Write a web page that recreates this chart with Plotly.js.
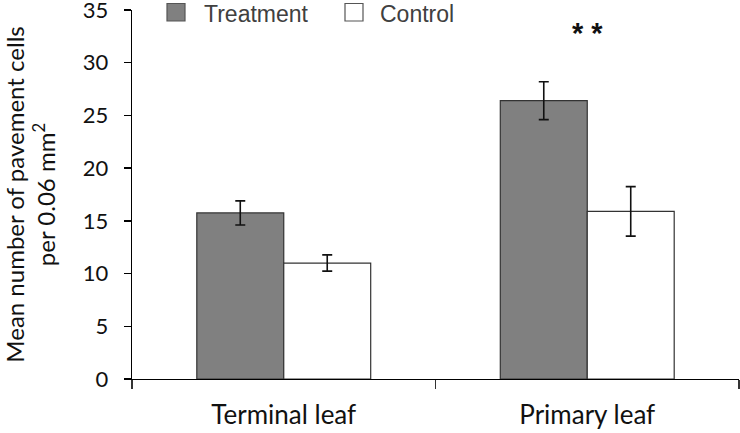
<!DOCTYPE html>
<html>
<head>
<meta charset="utf-8">
<script src="https://cdn.plot.ly/plotly-3.0.1.min.js"></script>
<style>html,body{margin:0;padding:0;background:#fff}#chart{width:740px;height:433px}</style>
</head>
<body>
<div id="chart"></div>
<script>
const categories = ["Terminal leaf", "Primary leaf"];
const seriesNames = ["Treatment", "Control"];
const seriesColors = ["#808080", "#ffffff"];
const treatmentValues = [15.75, 26.4];
const treatmentErrors = [1.15, 1.8];
const controlValues = [11.0, 15.9];
const controlErrors = [0.77, 2.35];
const yTickValues = [0, 5, 10, 15, 20, 25, 30, 35];
const significance = ["", "**"];

const bodyFont = "Lato, 'Open Sans', sans-serif";
const legendFont = "Liberation Sans, Arial, sans-serif";

const W = 740, H = 433;
const M = {l: 132, r: 1, t: 9.5, b: 54};
const plotW = W - M.l - M.r, plotH = H - M.t - M.b;
const px2x = p => (p - M.l) / plotW;
const px2y = p => (H - M.b - p) / plotH;

const traces = [
  {
    type: "bar", name: seriesNames[0], x: categories, y: treatmentValues,
    marker: {color: seriesColors[0], line: {color: "#333333", width: 1.2}},
    error_y: {type: "data", array: treatmentErrors, visible: true, color: "#111111", thickness: 1.6, width: 5}
  },
  {
    type: "bar", name: seriesNames[1], x: categories, y: controlValues,
    marker: {color: seriesColors[1], line: {color: "#333333", width: 1.2}},
    error_y: {type: "data", array: controlErrors, visible: true, color: "#111111", thickness: 1.6, width: 5}
  }
];

const annotations = [];
categories.forEach((c, i) => {
  if (significance[i]) {
    annotations.push({
      x: c, y: 32.8, xref: "x", yref: "y", text: "<b>* *</b>", showarrow: false,
      font: {family: legendFont, size: 29, color: "#111111"}
    });
  }
});

// custom legend (positions in pixels converted to paper coordinates)
const legendSwatchX = [167, 345];
const legendTextX = [202, 378];
const shapes = [];
seriesNames.forEach((name, i) => {
  shapes.push({
    type: "rect", xref: "paper", yref: "paper",
    x0: px2x(legendSwatchX[i]), x1: px2x(legendSwatchX[i] + 18),
    y0: px2y(20.5), y1: px2y(3),
    fillcolor: seriesColors[i], line: {color: "#555555", width: 1.2}
  });
  annotations.push({
    xref: "paper", yref: "paper", x: px2x(legendTextX[i]), y: px2y(13.5),
    xanchor: "left", yanchor: "middle", showarrow: false, text: name,
    font: {family: legendFont, size: 23, color: "#404040"}
  });
});

const layout = {
  width: W, height: H,
  margin: M,
  paper_bgcolor: "#ffffff", plot_bgcolor: "#ffffff",
  barmode: "group", bargap: 0.427, bargroupgap: 0,
  showlegend: false,
  xaxis: {
    type: "category", range: [-0.5, 1.5],
    showline: true, linecolor: "#000000", linewidth: 1.3,
    ticks: "outside", tickson: "boundaries", ticklen: 9, tickcolor: "#333333", tickwidth: 1.3,
    ticklabelstandoff: 12,
    tickfont: {family: bodyFont, size: 26, color: "#111111"},
    showgrid: false, zeroline: false, fixedrange: true
  },
  yaxis: {
    range: [0, 35], tickvals: yTickValues,
    showline: true, linecolor: "#000000", linewidth: 1.3,
    ticks: "outside", ticklen: 7, tickcolor: "#000000", tickwidth: 1.3,
    ticklabelstandoff: 11, ticklabeloverflow: "allow",
    tickfont: {family: bodyFont, size: 22, color: "#111111"},
    showgrid: false, zeroline: false,
    title: {text: "Mean number of pavement cells<br>per 0.06 mm<sup>2</sup>", font: {family: bodyFont, size: 24, color: "#111111"}, standoff: 40}
  },
  shapes: shapes,
  annotations: annotations
};

Plotly.newPlot("chart", traces, layout, {displayModeBar: false, staticPlot: true});
</script>
</body>
</html>
